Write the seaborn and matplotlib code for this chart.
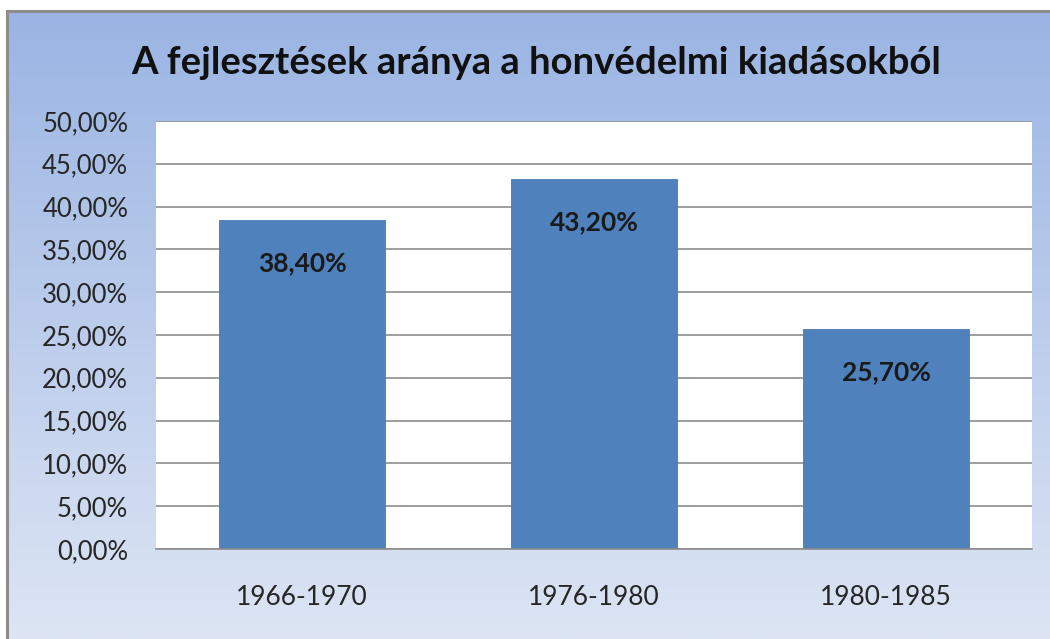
import numpy as np
import pandas as pd
import matplotlib
matplotlib.use("Agg")
import matplotlib.pyplot as plt
import seaborn as sns
from matplotlib.patches import Rectangle
from matplotlib.colors import LinearSegmentedColormap

categories = ["1966-1970", "1976-1980", "1980-1985"]
values = [38.40, 43.20, 25.70]
yticks = [0, 5, 10, 15, 20, 25, 30, 35, 40, 45, 50]
title = "A fejlesztések aránya a honvédelmi kiadásokból"

sns.set_theme(style="white")
plt.rcParams['font.family'] = ['Lato', 'DejaVu Sans']

W, H = 1050, 639
fig = plt.figure(figsize=(W / 100, H / 100), dpi=100)
fig.patch.set_facecolor("white")

# gradient background
bg = fig.add_axes([8 / W, 0, 1 - 8 / W, 1 - 11 / H])
grad = np.linspace(0, 1, 256).reshape(-1, 1)
cmap = LinearSegmentedColormap.from_list("g", ["#9AB4E3", "#DDE5F4"])
bg.imshow(grad, aspect="auto", cmap=cmap, extent=[0, 1, 0, 1], origin="upper")
bg.set_xlim(0, 1)
bg.set_ylim(0, 1)
bg.axis("off")
fig.add_artist(Rectangle((7 / W, -0.01), 1.1, 1 - 11 / H + 0.01, transform=fig.transFigure,
                         fill=False, edgecolor="#8C8C8C", linewidth=2.2))

left, right, top, bottom = 156, 1032, 121, 549
ax = fig.add_axes([left / W, 1 - bottom / H, (right - left) / W, (bottom - top) / H])
ax.set_facecolor("white")

df = pd.DataFrame({"cat": categories, "val": values})
sns.barplot(data=df, x="cat", y="val", color="#4F81BD", saturation=1, width=0.57, ax=ax)
for p in ax.patches:
    p.set_edgecolor("#4A7AB5")
    p.set_linewidth(0.6)

ax.set_ylim(0, 50)
ax.set_yticks(yticks)
ax.set_yticklabels([f"{v:.2f}%".replace(".", ",") for v in yticks], fontsize=18.5, color="#262626")
ax.tick_params(axis="x", labelsize=19, colors="#262626", pad=26, length=0)
ax.tick_params(axis="y", length=0, pad=20)
ax.set_xlabel("")
ax.set_ylabel("")
ax.yaxis.grid(True, color="#8C8C8C", linewidth=1.2)
ax.set_axisbelow(True)
for s in ["top", "right", "left"]:
    ax.spines[s].set_visible(False)
ax.spines["bottom"].set_color("#8C8C8C")
ax.spines["bottom"].set_linewidth(1.2)

for i, v in enumerate(values):
    ax.annotate(f"{v:.2f}%".replace(".", ","), (i, v), xytext=(0, -31), textcoords="offset points",
                ha="center", va="center", fontsize=19, fontweight="bold", color="#1A1A1A")

fig.text(536 / W, 1 - 63 / H, title, ha="center", va="center", fontsize=27.5, fontweight="bold", color="#111111")

fig.savefig("out.png", dpi=100)
